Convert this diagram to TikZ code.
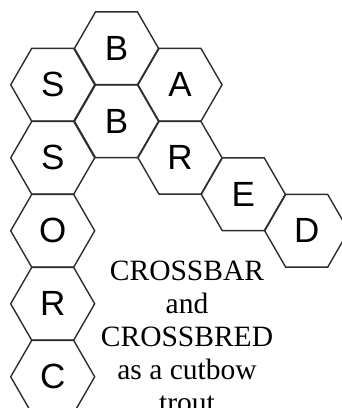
\documentclass[tikz,border=0pt]{standalone}
\usepackage{fontspec}
\setmainfont{Liberation Serif}
\newfontfamily\hexfont{Liberation Sans}
\usetikzlibrary{shapes.geometric}
\definecolor{cLine}{RGB}{45,45,45}

\begin{document}
\begin{tikzpicture}[x=1pt, y=-1pt,
            hx/.style={regular polygon, regular polygon sides=6, draw=cLine, line width=1.4pt,
                minimum size=84pt, inner sep=0pt, outer sep=0pt, font=\hexfont\fontsize{35}{35}\selectfont},
            note/.style={align=center, inner sep=0pt, font=\fontsize{29.5}{33}\selectfont}]
            \useasboundingbox (0,0) rectangle (341,408);
            \node[hx] (b1) at (116.5,48.3)  {B};
            \node[hx] (s1) at (52.7,84.8)   {S};
            \node[hx] (a)  at (180,84.8)    {A};
            \node[hx] (b2) at (116.5,121.3) {B};
            \node[hx] (s2) at (52.7,157.8)  {S};
            \node[hx] (r1) at (180,157.8)   {R};
            \node[hx] (e)  at (243.3,194.3) {E};
            \node[hx] (d)  at (306.7,230.8) {D};
            \node[hx] (o)  at (52.7,230.8)  {O};
            \node[hx] (r2) at (52.7,303.8)  {R};
            \node[hx] (c)  at (52.7,376.8)  {C};
            % caption beside the lower column
            \node[note, anchor=north] (cap) at (187,260.5)
                {CROSSBAR\\and\\CROSSBRED\\as a cutbow\\trout};
\end{tikzpicture}
\end{document}
